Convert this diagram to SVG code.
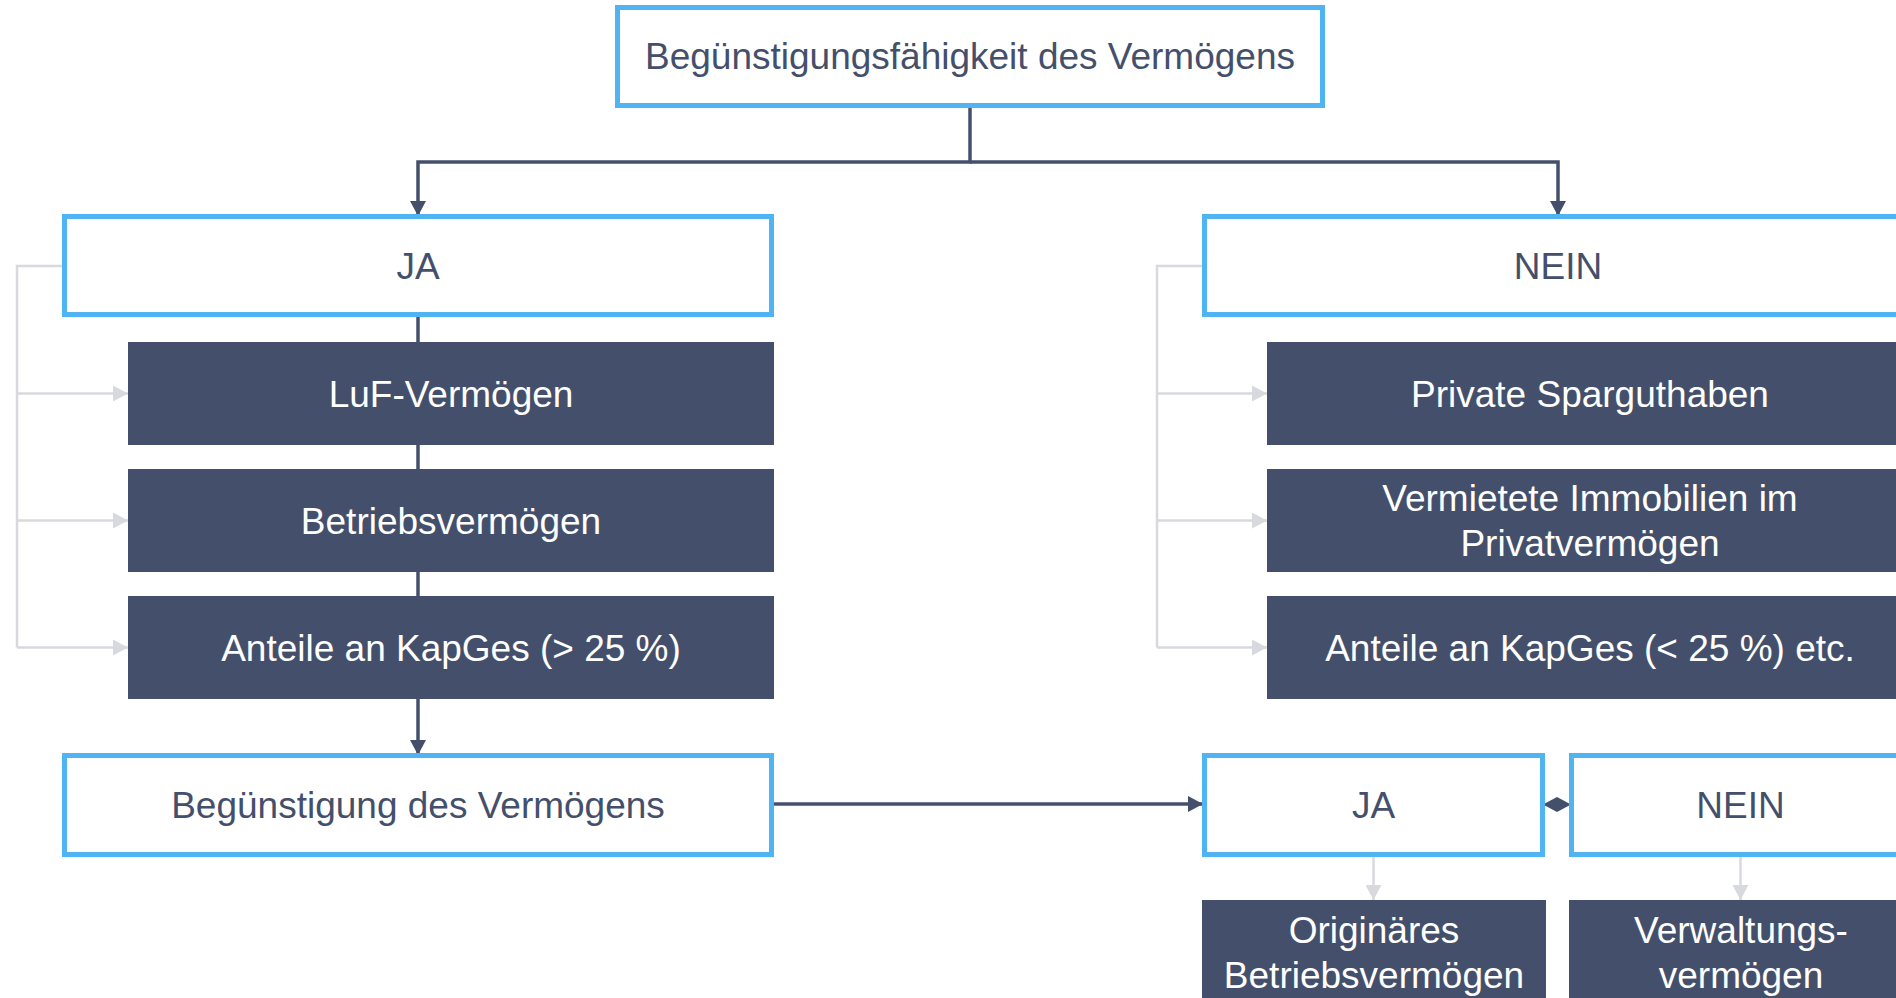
<svg xmlns="http://www.w3.org/2000/svg" width="1896" height="998" viewBox="0 0 1896 998">
<style>
.frame{fill:#ffffff;stroke:#4fb4f1;stroke-width:5}
.dark{fill:#44506b}
.t{font-family:"Liberation Sans",Arial,sans-serif;font-size:37px;text-anchor:middle}
.td{fill:#44506b}
.tw{fill:#ffffff}
.cd{fill:none;stroke:#44506b;stroke-width:3.5}
.cg{fill:none;stroke:#d8d8df;stroke-width:2.5}
</style>
<defs>
<marker id="ad" markerUnits="userSpaceOnUse" markerWidth="16" markerHeight="16" viewBox="0 0 16 16" refX="15" refY="8" orient="auto">
<path d="M0,0 L15,8 L0,16 z" fill="#44506b"/>
</marker>
<marker id="ag" markerUnits="userSpaceOnUse" markerWidth="16" markerHeight="16" viewBox="0 0 16 16" refX="15" refY="8" orient="auto">
<path d="M0,0 L15,8 L0,16 z" fill="#d8d8df"/>
</marker>
</defs>
<g id="connectors">
<path class="cd" d="M970,108 V162 H418 V216" marker-end="url(#ad)"/>
<path class="cd" d="M970,162 H1558 V216" marker-end="url(#ad)"/>
<path class="cd" d="M418,317 V755" marker-end="url(#ad)"/>
<path class="cd" d="M774,804 H1203" marker-end="url(#ad)"/>
<polygon points="1543,804.5 1557,797 1571,804.5 1557,812" fill="#44506b"/>
<path class="cg" d="M62,266 H17 V647.5"/>
<path class="cg" d="M17,393.5 H128" marker-end="url(#ag)"/>
<path class="cg" d="M17,520.5 H128" marker-end="url(#ag)"/>
<path class="cg" d="M17,647.5 H128" marker-end="url(#ag)"/>
<path class="cg" d="M1202,266 H1157 V647.5"/>
<path class="cg" d="M1157,393.5 H1267" marker-end="url(#ag)"/>
<path class="cg" d="M1157,520.5 H1267" marker-end="url(#ag)"/>
<path class="cg" d="M1157,647.5 H1267" marker-end="url(#ag)"/>
<path class="cg" d="M1373.5,856 V900" marker-end="url(#ag)"/>
<path class="cg" d="M1740.5,856 V900" marker-end="url(#ag)"/>
</g>
<g id="node-root">
<rect class="frame" x="617.5" y="7.5" width="705" height="98"/>
<text class="t td" x="970" y="69">Begünstigungsfähigkeit des Vermögens</text>
</g>
<g id="node-ja">
<rect class="frame" x="64.5" y="216.5" width="707" height="98"/>
<text class="t td" x="418" y="279">JA</text>
</g>
<g id="node-luf">
<rect class="dark" x="128" y="342" width="646" height="103"/>
<text class="t tw" x="451" y="407">LuF-Vermögen</text>
</g>
<g id="node-betrieb">
<rect class="dark" x="128" y="469" width="646" height="103"/>
<text class="t tw" x="451" y="534">Betriebsvermögen</text>
</g>
<g id="node-anteile-gt">
<rect class="dark" x="128" y="596" width="646" height="103"/>
<text class="t tw" x="451" y="661">Anteile an KapGes (&gt; 25 %)</text>
</g>
<g id="node-beguenstigung">
<rect class="frame" x="64.5" y="755.5" width="707" height="99"/>
<text class="t td" x="418" y="818">Begünstigung des Vermögens</text>
</g>
<g id="node-nein">
<rect class="frame" x="1204.5" y="216.5" width="707" height="98"/>
<text class="t td" x="1558" y="279">NEIN</text>
</g>
<g id="node-spar">
<rect class="dark" x="1267" y="342" width="646" height="103"/>
<text class="t tw" x="1590" y="407">Private Sparguthaben</text>
</g>
<g id="node-immo">
<rect class="dark" x="1267" y="469" width="646" height="103"/>
<text class="t tw" x="1590" y="511">Vermietete Immobilien im</text>
<text class="t tw" x="1590" y="556">Privatvermögen</text>
</g>
<g id="node-anteile-lt">
<rect class="dark" x="1267" y="596" width="646" height="103"/>
<text class="t tw" x="1590" y="661">Anteile an KapGes (&lt; 25 %) etc.</text>
</g>
<g id="node-ja2">
<rect class="frame" x="1204.5" y="755.5" width="338" height="99"/>
<text class="t td" x="1373.5" y="818">JA</text>
</g>
<g id="node-nein2">
<rect class="frame" x="1571.5" y="755.5" width="338" height="99"/>
<text class="t td" x="1740.5" y="818">NEIN</text>
</g>
<g id="node-originaer">
<rect class="dark" x="1202" y="900" width="344" height="110"/>
<text class="t tw" x="1374" y="943">Originäres</text>
<text class="t tw" x="1374" y="988">Betriebsvermögen</text>
</g>
<g id="node-verwaltung">
<rect class="dark" x="1569" y="900" width="344" height="110"/>
<text class="t tw" x="1741" y="943">Verwaltungs-</text>
<text class="t tw" x="1741" y="988">vermögen</text>
</g>
</svg>
